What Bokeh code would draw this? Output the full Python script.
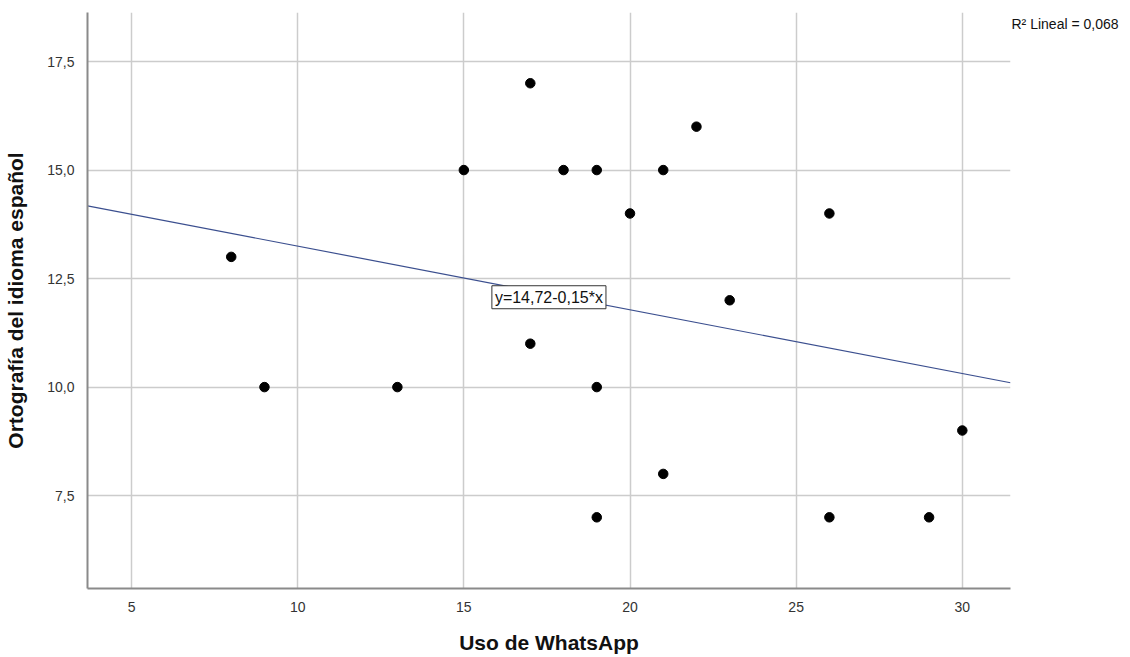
import numpy as np
from bokeh.plotting import figure
from bokeh.models import Range1d, FixedTicker, CustomJSTickFormatter, Label, Title
from bokeh.embed import file_html
from bokeh.resources import INLINE

# Data
uso_whatsapp = [8, 9, 13, 15, 17, 17, 18, 19, 19, 19, 20, 21, 21, 22, 23, 26, 26, 29, 30]
ortografia = [13, 10, 10, 15, 17, 11, 15, 15, 10, 7, 14, 15, 8, 16, 12, 14, 7, 7, 9]
x_ticks = [5, 10, 15, 20, 25, 30]
y_ticks = [7.5, 10.0, 12.5, 15.0, 17.5]

FONT = "Liberation Sans"
x0, x1 = 3.675, 31.45
y0, y1 = 5.36, 18.63

p = figure(frame_width=923, frame_height=576, output_backend="svg", toolbar_location=None,
           x_range=Range1d(x0, x1), y_range=Range1d(y0, y1),
           min_border_left=87, min_border_top=12, min_border_right=118, min_border_bottom=0)
p.outline_line_color = None
p.background_fill_color = "white"

for ax in (p.xaxis[0], p.yaxis[0]):
    ax.axis_line_color = "#8a8a8a"
    ax.axis_line_width = 2
    ax.major_tick_line_color = None
    ax.minor_tick_line_color = None
    ax.major_label_text_font = FONT
    ax.major_label_text_font_size = "14px"
    ax.major_label_text_color = "#333333"
    ax.axis_label_text_font = FONT
    ax.axis_label_text_font_size = "21px"
    ax.axis_label_text_font_style = "bold"
    ax.axis_label_text_color = "#111111"

p.xaxis.ticker = FixedTicker(ticks=x_ticks)
p.yaxis.ticker = FixedTicker(ticks=y_ticks)
p.xaxis.formatter = CustomJSTickFormatter(code="return tick.toFixed(0);")
p.yaxis.formatter = CustomJSTickFormatter(code="return tick.toFixed(1).replace('.', ',');")
p.xaxis.axis_label = "Uso de WhatsApp"
p.yaxis.axis_label = "Ortografía del idioma español"
p.xaxis.major_label_standoff = 7
p.yaxis.major_label_standoff = 7
p.xaxis.axis_label_standoff = 16
p.yaxis.axis_label_standoff = 17

p.xgrid.ticker = FixedTicker(ticks=x_ticks)
p.ygrid.ticker = FixedTicker(ticks=y_ticks)
for g in (p.xgrid[0], p.ygrid[0]):
    g.grid_line_color = "#cccccc"
    g.grid_line_width = 1.5

# Fit line
slope, intercept = np.polyfit(uso_whatsapp, ortografia, 1)
r2 = np.corrcoef(uso_whatsapp, ortografia)[0, 1] ** 2
p.line([x0, x1], [intercept + slope * x0, intercept + slope * x1],
       line_color="#3b4f8f", line_width=1.2)

p.scatter(uso_whatsapp, ortografia, size=9.5, fill_color="black", line_color="black")

fmt = lambda v, d: f"{v:.{d}f}".replace(".", ",")
eq = Label(x=17.56, y=12.07, text=f"y={fmt(intercept,2)}-{fmt(abs(slope),2)}*x",
           text_font=FONT, text_font_size="16px", text_color="#111111",
           text_align="center", text_baseline="middle",
           background_fill_color="white", border_line_color="#333333", border_line_width=1,
           padding=3)
p.add_layout(eq)

r2title = Title(text=f"R² Lineal = {fmt(r2,3)}", align="left", offset=924,
                standoff=-38, vertical_align="bottom",
                text_font=FONT, text_font_size="14px", text_font_style="normal",
                text_color="#111111")
p.add_layout(r2title, "above")

open("out.html", "w").write(file_html(p, INLINE))
